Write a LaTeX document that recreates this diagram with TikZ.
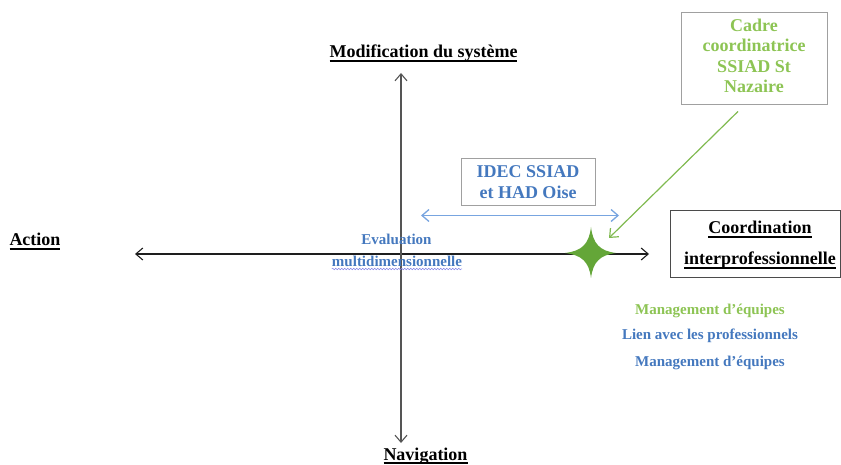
\documentclass[tikz,border=0pt]{standalone}
\usepackage{fontspec}
\setmainfont{Liberation Serif}
\usetikzlibrary{arrows.meta,decorations.pathmorphing}
\definecolor{txtgreen}{RGB}{141,196,84}
\definecolor{txtblue}{RGB}{68,120,190}
\definecolor{arrblue}{RGB}{120,165,224}
\definecolor{arrgreen}{RGB}{128,186,80}
\definecolor{stargreen}{RGB}{100,166,56}
\definecolor{boxgray}{RGB}{160,160,160}
\definecolor{axisgray}{RGB}{85,85,85}
\definecolor{axisdark}{RGB}{30,30,30}
\definecolor{wavy}{RGB}{130,130,230}
\newcommand\myul[1]{\setbox0=\hbox{#1}\rlap{\rule[-3.6pt]{\wd0}{1.3pt}}\box0}
\tikzset{
  big/.style={font=\fontsize{18}{21}\selectfont\bfseries, inner sep=0pt, anchor=base},
  small/.style={font=\fontsize{15}{18}\selectfont\bfseries, inner sep=0pt, anchor=base},
  graybox/.style={draw=boxgray, line width=0.9pt, inner sep=0pt},
  blackbox/.style={draw=axisdark!80, line width=1pt, inner sep=0pt},
  axisline/.style={line width=1.1pt, {Straight Barb[length=7pt,width=12pt]}-{Straight Barb[length=7pt,width=12pt]}},
  bluearrow/.style={draw=arrblue, line width=1.3pt, {Straight Barb[length=7pt,width=12pt]}-{Straight Barb[length=7pt,width=12pt]}},
  greenarrow/.style={draw=arrgreen, line width=1.2pt, -{Straight Barb[length=7pt,width=12pt]}}
}
\begin{document}
\begin{tikzpicture}[x=1pt,y=-1pt]
\useasboundingbox (0,0) rectangle (841,465);
% boxes
\node[graybox, minimum width=146pt, minimum height=92pt] (cadre) at (754,58) {};
\node[graybox, minimum width=134pt, minimum height=47pt] (idec) at (528,181.5) {};
\node[blackbox, minimum width=170pt, minimum height=67pt] (coord) at (755,244) {};
% axes
\coordinate (L) at (135,254);
\coordinate (R) at (649,254);
\coordinate (T) at (401,73);
\coordinate (B) at (401,443);
\draw[axisline, draw=axisdark] (L) -- (R);
\draw[axisline, draw=axisgray] (B) -- (T);
% axis labels
\node[big] (modif) at (423.5,58) {\myul{Modification du système}};
\node[big] (action) at (35,246) {\myul{Action}};
\node[big] (navig) at (425.5,460) {\myul{Navigation}};
% coordination box text
\node[big] (coord1) at (760,234) {\myul{Coordination}};
\node[big] (coord2) at (760,265) {\myul{interprofessionnelle}};
% cadre box text
\node[big, text=txtgreen] (cad1) at (754,32) {Cadre};
\node[big, text=txtgreen] (cad2) at (754,52) {coordinatrice};
\node[big, text=txtgreen] (cad3) at (754,73) {SSIAD St};
\node[big, text=txtgreen] (cad4) at (754,93) {Nazaire};
% idec box text
\node[big, text=txtblue] (idec1) at (528,178) {IDEC SSIAD};
\node[big, text=txtblue] (idec2) at (528,199) {et HAD Oise};
% blue double arrow
\coordinate (bl) at (421,215.5);
\coordinate (br) at (619,215.5);
\draw[bluearrow] (bl) -- (br);
% evaluation
\node[small, text=txtblue] (eval1) at (396.5,244) {Evaluation};
\node[small, text=txtblue] (eval2) at (397,266) {multidimensionnelle};
\draw[wavy, line width=0.5pt, decorate, decoration={snake, amplitude=0.8pt, segment length=3pt}] ([yshift=-3pt]eval2.base west) -- ([yshift=-3pt]eval2.base east);
% star
\coordinate (star) at (591,253);
\fill[stargreen] (591,227) .. controls (593,244) and (600,251) .. (616,253)
  .. controls (600,255) and (593,262) .. (591,278)
  .. controls (589,262) and (582,255) .. (565,253)
  .. controls (582,251) and (589,244) .. (591,227) -- cycle;
% green arrow
\draw[greenarrow] ([xshift=-16pt,yshift=-7pt]cadre.south) -- ([xshift=18pt,yshift=15pt]star);
% bottom right texts
\node[small, text=txtgreen] (man1) at (710,314) {Management d’équipes};
\node[small, text=txtblue] (lien) at (710,339) {Lien avec les professionnels};
\node[small, text=txtblue] (man2) at (710,366) {Management d’équipes};
\end{tikzpicture}
\end{document}
